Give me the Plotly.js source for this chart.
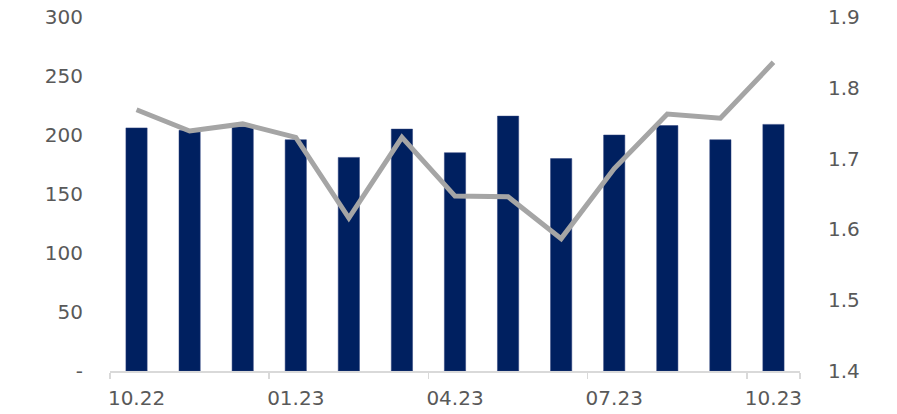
<!DOCTYPE html>
<html>
<head>
<meta charset="utf-8">
<script src="https://cdn.plot.ly/plotly-3.0.1.min.js"></script>
<style>html,body{margin:0;padding:0;background:#fff;}#chart{width:897px;height:414px;}</style>
</head>
<body>
<div id="chart"></div>
<script>
const months = ['10.22','11.22','12.22','01.23','02.23','03.23','04.23','05.23','06.23','07.23','08.23','09.23','10.23'];
const barValues = [206, 204, 207, 196, 181, 205, 185, 216, 180, 200, 208, 196, 209];
const lineValues = [1.769, 1.739, 1.749, 1.730, 1.616, 1.730, 1.647, 1.646, 1.587, 1.686, 1.763, 1.757, 1.836];
const xTickLabels = ['10.22','01.23','04.23','07.23','10.23'];
const leftTickVals = [0, 50, 100, 150, 200, 250, 300];
const leftTickText = ['-', '50', '100', '150', '200', '250', '300'];
const rightTickVals = [1.4, 1.5, 1.6, 1.7, 1.8, 1.9];

const font = {family: 'Verdana, "DejaVu Sans", sans-serif', size: 20, color: '#595959'};

const data = [
  {type: 'bar', x: months, y: barValues, marker: {color: '#002060', line: {color: '#2a3f7a', width: 0.5}}, yaxis: 'y', hoverinfo: 'skip'},
  {type: 'scatter', mode: 'lines', x: months, y: lineValues, yaxis: 'y2', line: {color: '#A5A5A5', width: 5}, hoverinfo: 'skip'}
];

const layout = {
  width: 897, height: 414,
  margin: {l: 110, r: 97, t: 17, b: 43},
  paper_bgcolor: '#fff', plot_bgcolor: '#fff',
  showlegend: false,
  bargap: 0.6,
  font: font,
  xaxis: {
    type: 'category', categoryorder: 'array', categoryarray: months,
    tickmode: 'array', tickvals: xTickLabels, ticktext: xTickLabels,
    tickson: 'boundaries', ticks: 'outside', ticklen: 6, tickcolor: '#D9D9D9', tickwidth: 1.5,
    showline: true, linecolor: '#D9D9D9', linewidth: 1.5, tickangle: 0, automargin: false,
    ticklabelstandoff: 8,
    showgrid: false, zeroline: false, tickfont: font
  },
  yaxis: {
    range: [0, 300], tickmode: 'array', tickvals: leftTickVals, ticktext: leftTickText, automargin: false,
    showgrid: false, zeroline: false, showline: false, ticks: '', ticklabelstandoff: 26, tickfont: font
  },
  yaxis2: {
    range: [1.4, 1.9], overlaying: 'y', side: 'right', tickmode: 'array', tickvals: rightTickVals, automargin: false,
    tickformat: '.1f', showgrid: false, zeroline: false, showline: false, ticks: '', ticklabelstandoff: 27, tickfont: font
  }
};

Plotly.newPlot('chart', data, layout, {staticPlot: true, displayModeBar: false});
</script>
</body>
</html>
